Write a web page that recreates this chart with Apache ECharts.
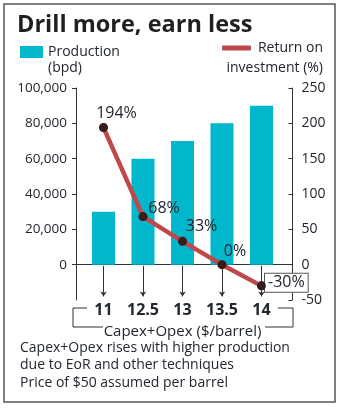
<!DOCTYPE html>
<html>
<head>
<meta charset="utf-8">
<script src="https://cdn.jsdelivr.net/npm/echarts@6/dist/echarts.min.js"></script>
<style>
  html, body { margin: 0; padding: 0; background: #fff; }
  #chart { width: 342px; height: 408px; }
</style>
</head>
<body>
<div id="chart"></div>
<script>
// Capex+Opex cost per barrel (category axis)
const categories = ['11', '12.5', '13', '13.5', '14'];
// Production, barrels per day
const production = [30000, 60000, 70000, 80000, 90000];
// Return on investment, percent
const roi = [194, 68, 33, 0, -30];
// Tick values for the two value axes
const productionTicks = [0, 20000, 40000, 60000, 80000, 100000];
const roiTicks = [-50, 0, 50, 100, 150, 200, 250];

const FONT = '"Open Sans", sans-serif';
const INK = '#22262e';
const AXIS = '#333';
const CYAN = '#00b7cc';
const RED = '#c0474a';

// Per-point label placement for the ROI line
const roiLabelOffsets = [[13, 3], [21, 9], [19, 3], [13, 4], null];

const chart = echarts.init(document.getElementById('chart'), null, { renderer: 'canvas' });

const roiData = roi.map((v, i) => {
  if (roiLabelOffsets[i]) {
    return { value: v, label: { position: 'top', offset: roiLabelOffsets[i] } };
  }
  return {
    value: v,
    label: {
      position: 'right',
      offset: [-6, -3],
      backgroundColor: '#fff',
      borderColor: '#555',
      borderWidth: 1,
      padding: [2, 3, 0, 3]
    }
  };
});

const option = {
  backgroundColor: '#fff',
  animation: false,
  textStyle: { fontFamily: FONT },
  title: [
    { text: 'Drill more, earn less', left: 17, top: 13, padding: 0,
      textStyle: { fontFamily: FONT, fontSize: 23.5, fontWeight: 'bold', color: '#231f20' } },
    { text: '(bpd)', left: 48, top: 61, padding: 0,
      textStyle: { fontFamily: FONT, fontSize: 14, fontWeight: 'normal', color: INK } },
    { text: 'investment (%)', right: 19, top: 61, padding: 0,
      textStyle: { fontFamily: FONT, fontSize: 14, fontWeight: 'normal', color: INK } },
    { text: 'Capex+Opex rises with higher production\ndue to EoR and other techniques', left: 20, top: 339, padding: 0,
      textStyle: { fontFamily: FONT, fontSize: 14, fontWeight: 'normal', color: INK, lineHeight: 17.5 } },
    { text: 'Price of $50 assumed per barrel', left: 20, top: 376, padding: 0,
      textStyle: { fontFamily: FONT, fontSize: 14, fontWeight: 'normal', color: INK } }
  ],
  legend: [
    { data: ['Production (bpd)'], left: 20, top: 45, padding: 0,
      itemWidth: 23, itemHeight: 12, icon: 'rect',
      formatter: () => 'Production',
      textStyle: { fontFamily: FONT, fontSize: 14, color: INK } },
    { data: ['Return on investment (%)'], right: 19, top: 41, padding: 0,
      itemWidth: 29, itemHeight: 5, icon: 'roundRect',
      formatter: () => 'Return on',
      itemStyle: { borderWidth: 0 },
      textStyle: { fontFamily: FONT, fontSize: 14, color: INK, padding: [0, 0, 0, 2] } }
  ],
  grid: [
    // frame holding the visible value axes and the zero line
    { left: 76, right: 49.5, top: 88, height: 212 },
    // plotting area for the bars and the line
    { left: 83.75, right: 60.75, top: 88, height: 212 }
  ],
  xAxis: [
    { type: 'value', gridIndex: 0, min: 0, max: 1,
      axisLine: { show: true, onZero: true, lineStyle: { color: AXIS, width: 1 } },
      axisTick: { show: false }, axisLabel: { show: false }, splitLine: { show: false } },
    { type: 'category', gridIndex: 1, data: categories,
      axisLine: { show: false, onZero: false },
      axisTick: { show: false },
      axisLabel: { interval: 0, margin: 2, fontFamily: FONT, fontSize: 16, fontWeight: 'bold', color: INK },
      name: 'Capex+Opex ($/barrel)', nameLocation: 'middle', nameGap: 24,
      nameTextStyle: { fontFamily: FONT, fontSize: 15, color: INK } }
  ],
  yAxis: [
    { type: 'value', gridIndex: 0, position: 'left', min: -20000, max: 100000, interval: 20000,
      axisLine: { show: true, onZero: false, lineStyle: { color: AXIS } },
      axisTick: { show: true, length: 4, customValues: productionTicks, lineStyle: { color: AXIS } },
      axisLabel: { margin: 9, customValues: productionTicks, fontFamily: FONT, fontSize: 13.5, color: INK,
        formatter: v => v.toLocaleString('en-US') },
      splitLine: { show: false } },
    { type: 'value', gridIndex: 0, position: 'right', min: -50, max: 250, interval: 50,
      axisLine: { show: true, onZero: false, lineStyle: { color: AXIS } },
      axisTick: { show: true, inside: true, length: 4, customValues: roiTicks, lineStyle: { color: AXIS } },
      axisLabel: { margin: 9, customValues: roiTicks, fontFamily: FONT, fontSize: 14, color: INK },
      splitLine: { show: false } },
    { type: 'value', gridIndex: 1, min: -20000, max: 100000, show: false },
    { type: 'value', gridIndex: 1, min: -50, max: 250, show: false }
  ],
  series: [
    { name: 'Production (bpd)', type: 'bar', xAxisIndex: 1, yAxisIndex: 2,
      data: production, barWidth: 23, itemStyle: { color: CYAN }, z: 2 },
    { name: 'pointers', type: 'lines', coordinateSystem: 'cartesian2d', xAxisIndex: 1, yAxisIndex: 2,
      symbol: ['none', 'arrow'], symbolSize: 5, silent: true,
      lineStyle: { color: AXIS, width: 1, opacity: 1 },
      data: categories.map((c, i) => ({ coords: [[i, -600], [i, -18000]] })), z: 1 },
    { name: 'Return on investment (%)', type: 'line', xAxisIndex: 1, yAxisIndex: 3,
      data: roiData,
      lineStyle: { color: RED, width: 4.5 },
      itemStyle: { color: RED },
      symbol: 'circle', symbolSize: 9,
      label: { show: true, formatter: p => p.value + '%', fontFamily: FONT, fontSize: 16, color: INK },
      z: 5 },
    // dots on top of the line, drawn black
    { name: 'roi-dots', type: 'scatter', xAxisIndex: 1, yAxisIndex: 3, data: roi,
      symbol: 'circle', symbolSize: 9, itemStyle: { color: '#111' }, silent: true, z: 6 }
  ],
  graphic: [
    { type: 'rect', shape: { x: 4, y: 4, width: 331, height: 398 }, silent: true,
      style: { fill: 'none', stroke: '#555', lineWidth: 1.5 }, z: 0 },
    { type: 'polyline', shape: { points: [[87, 308], [73, 308], [73, 327], [103, 327]] },
      style: { fill: 'none', stroke: AXIS, lineWidth: 1 } },
    { type: 'polyline', shape: { points: [[278, 308], [293, 308], [293, 327], [265, 327]] },
      style: { fill: 'none', stroke: AXIS, lineWidth: 1 } }
  ]
};

chart.setOption(option);
</script>
</body>
</html>
